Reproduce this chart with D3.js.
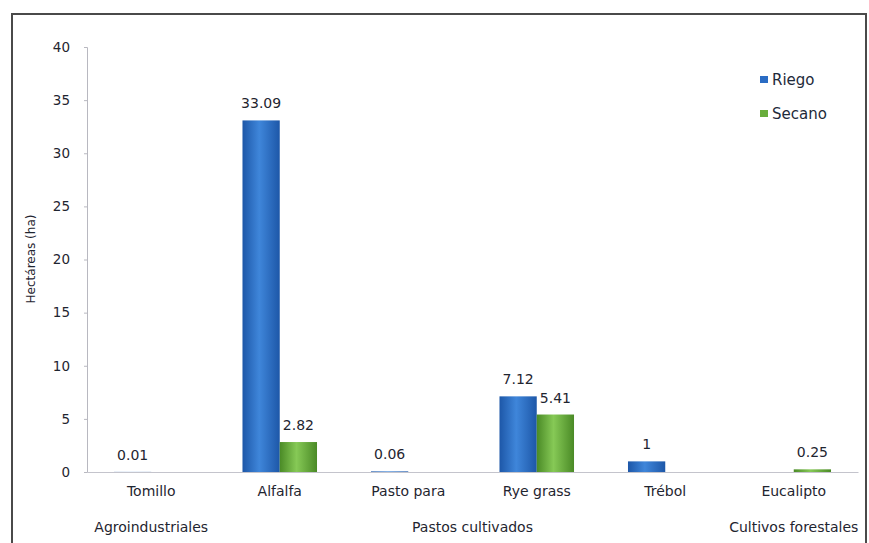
<!DOCTYPE html>
<html><head><meta charset="utf-8">
<script src="https://cdn.jsdelivr.net/npm/d3@7/dist/d3.min.js"></script>
<style>body{margin:0;background:#fff}svg{display:block}text{font-family:"DejaVu Sans",Verdana,sans-serif}</style>
</head><body><svg id="c" width="869" height="543"></svg>
<script>
const categories = ["Tomillo","Alfalfa","Pasto para","Rye grass","Trébol","Eucalipto"];
const groups = [
  {name:"Agroindustriales", from:"Tomillo", to:"Tomillo"},
  {name:"Pastos cultivados", from:"Alfalfa", to:"Trébol"},
  {name:"Cultivos forestales", from:"Eucalipto", to:"Eucalipto"}
];
const seriesNames = ["Riego","Secano"];
const riego  = [0.01, 33.09, 0.06, 7.12, 1, null];
const secano = [null, 2.82, null, 5.41, null, 0.25];
const yTicks = [0,5,10,15,20,25,30,35,40];
const colors = {Riego:"#2a6cc4", Secano:"#68ad3c"};

const svg = d3.select("#c");
const m = {left:87, right:869-858, top:47, bottom:543-472};
const W = 869, H = 543;
const txt = "#1f2530";

// frame
svg.append("rect").attr("x",12).attr("y",14).attr("width",854).attr("height",560)
  .attr("fill","none").attr("stroke","#4a4a4a").attr("stroke-width",2);

const defs = svg.append("defs");
[["Riego","#1d57a8","#3f86da"],["Secano","#4a8a26","#86c956"]].forEach(([k,e,c])=>{
  const g = defs.append("linearGradient").attr("id","g"+k).attr("x1","0").attr("x2","1").attr("y1","0").attr("y2","0");
  g.append("stop").attr("offset","0%").attr("stop-color",e);
  g.append("stop").attr("offset","45%").attr("stop-color",c);
  g.append("stop").attr("offset","100%").attr("stop-color",e);
});

const x = d3.scaleBand().domain(categories).range([m.left, W-m.right]).paddingInner(0.42).paddingOuter(0.21);
const xs = d3.scaleBand().domain(seriesNames).range([0, x.bandwidth()]);
const y = d3.scaleLinear().domain([0,40]).range([H-m.bottom, m.top]);

// y axis
const ya = svg.append("g").attr("transform",`translate(${m.left},0)`)
  .call(d3.axisLeft(y).tickValues(yTicks).tickSize(3).tickPadding(14));
ya.select(".domain").attr("stroke","#b8b8c0");
ya.selectAll(".tick line").attr("stroke","#b8b8c0");
ya.selectAll("text").attr("fill",txt).style("font-size","13.5px");

// x axis baseline
const xa = svg.append("g").attr("transform",`translate(0,${y(0)})`)
  .call(d3.axisBottom(x).tickSize(0).tickPadding(14));
xa.select(".domain").attr("stroke","#c4c4cc");
xa.selectAll("text").attr("fill",txt).style("font-size","14px");

// group labels
groups.forEach(g=>{
  const cx = (x(g.from) + x(g.to) + x.bandwidth())/2;
  svg.append("text").attr("x",cx).attr("y",532).attr("text-anchor","middle")
    .attr("fill",txt).style("font-size","14px").text(g.name);
});

// y title
svg.append("text").attr("transform","translate(35,259) rotate(-90)").attr("text-anchor","middle")
  .attr("fill",txt).style("font-size","12px").text("Hectáreas (ha)");

// bars
const data = [];
categories.forEach((c,i)=>{
  [["Riego",riego[i]],["Secano",secano[i]]].forEach(([s,v])=>{ if(v!=null) data.push({c,s,v}); });
});
svg.append("g").selectAll("rect").data(data).join("rect")
  .attr("x",d=>x(d.c)+xs(d.s)).attr("width",xs.bandwidth())
  .attr("y",d=>y(d.v)).attr("height",d=>y(0)-y(d.v))
  .attr("fill",d=>`url(#g${d.s})`);
svg.append("g").selectAll("text").data(data).join("text")
  .attr("x",d=>x(d.c)+xs(d.s)+xs.bandwidth()/2).attr("y",d=>y(d.v)-12)
  .attr("text-anchor","middle").attr("fill",txt).style("font-size","14px")
  .text(d=>d.v);

// legend
const lg = svg.append("g");
seriesNames.forEach((s,i)=>{
  const yy = 80 + i*34;
  lg.append("rect").attr("x",760).attr("y",yy-4).attr("width",8).attr("height",7).attr("fill",colors[s]);
  lg.append("text").attr("x",772).attr("y",yy+5).attr("fill","#1e2a3a").style("font-size","15px").text(s);
});
</script></body></html>
